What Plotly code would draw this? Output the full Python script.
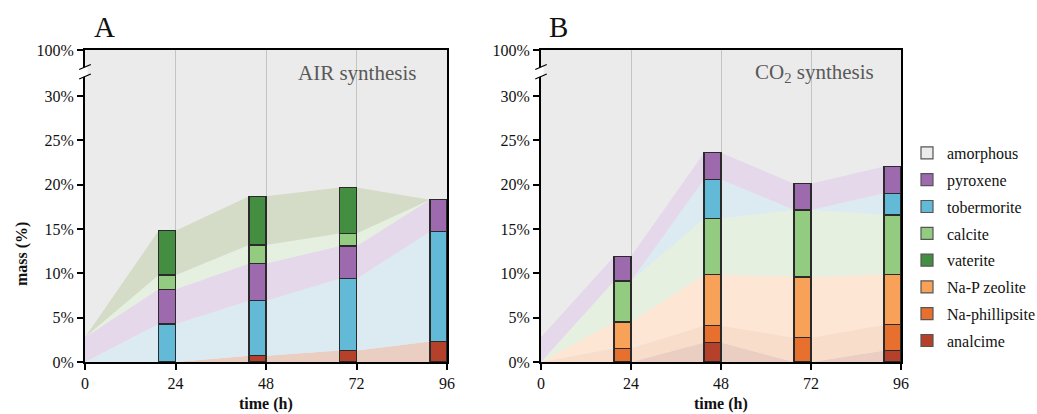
import plotly.graph_objects as go

# ---------------- data ----------------
time_h = [0, 24, 48, 72, 96]          # sampling times (h); t=0 has no bar
x_ticks = [0, 24, 48, 72, 96]
y_ticks = [0, 5, 10, 15, 20, 25, 30]
y_tick_text = ["0%", "5%", "10%", "15%", "20%", "25%", "30%"]
y_top_label = "100%"

# AIR synthesis (mass %)
air_analcime    = [0.0, 0.0, 0.7, 1.3, 2.3]
air_tobermorite = [0.0, 4.3, 6.2, 8.1, 12.4]
air_pyroxene    = [2.8, 3.9, 4.2, 3.7, 3.6]
air_calcite     = [0.0, 1.6, 2.1, 1.4, 0.0]
air_vaterite    = [0.0, 5.0, 5.5, 5.2, 0.0]

# CO2 synthesis (mass %)
co2_analcime      = [0.0, 0.0, 2.2, 0.0, 1.3]
co2_naphillipsite = [0.0, 1.55, 1.9, 2.75, 2.9]
co2_nap_zeolite   = [0.0, 2.95, 5.75, 6.85, 5.7]
co2_calcite       = [0.0, 4.65, 6.35, 7.55, 6.7]
co2_tobermorite   = [0.0, 0.0, 4.4, 0.0, 2.45]
co2_pyroxene      = [2.8, 2.75, 3.0, 2.95, 3.0]

legend_order = ["amorphous", "pyroxene", "tobermorite", "calcite", "vaterite",
                "Na-P zeolite", "Na-phillipsite", "analcime"]

# ---------------- styles ----------------
FONT = "Liberation Serif"
BG = "#ebebeb"
EDGE = "#2a2a2a"
BAR_W = 4.5
Y_TOP = 35.2

bar_color = {
    "amorphous": BG,
    "pyroxene": "#9e6aae",
    "tobermorite": "#62bad7",
    "calcite": "#93cb81",
    "vaterite": "#438e40",
    "Na-P zeolite": "#f8a259",
    "Na-phillipsite": "#e8702f",
    "analcime": "#b5412a",
}
area_color = {
    "pyroxene": "#e4d8ea",
    "tobermorite": "#dcebf2",
    "calcite": "#e5f0e1",
    "vaterite": "#d4dcc8",
    "Na-P zeolite": "#fde6d4",
    "Na-phillipsite": "#f7ddca",
    "analcime": "#eacec2",
}

panels = [
    ("x", "y", "x3", "y3", "A",
     [("analcime", air_analcime), ("tobermorite", air_tobermorite),
      ("pyroxene", air_pyroxene), ("calcite", air_calcite),
      ("vaterite", air_vaterite)]),
    ("x2", "y2", "x4", "y4", "B",
     [("analcime", co2_analcime), ("Na-phillipsite", co2_naphillipsite),
      ("Na-P zeolite", co2_nap_zeolite), ("calcite", co2_calcite),
      ("tobermorite", co2_tobermorite), ("pyroxene", co2_pyroxene)]),
]

fig = go.Figure()

for xa, ya, xb, yb, grp, series in panels:
    # connecting areas: from each bar's right edge to next bar's left edge
    for name, vals in series:
        ax, ay = [time_h[0]], [vals[0]]
        for t, v in zip(time_h[1:], vals[1:]):
            ax += [t - BAR_W, t]
            ay += [v, v]
        fig.add_trace(go.Scatter(
            x=ax, y=ay, xaxis=xa, yaxis=ya, mode="lines", stackgroup=grp,
            line=dict(width=0), fillcolor=area_color[name], showlegend=False,
            hoverinfo="skip"))
    # stacked bars on an overlaying subplot so they sit above the areas
    for name, vals in series:
        fig.add_trace(go.Bar(
            x=time_h[1:], y=[v if v > 0 else None for v in vals[1:]],
            xaxis=xb, yaxis=yb, width=BAR_W, offset=-BAR_W,
            marker=dict(color=bar_color[name], line=dict(color=EDGE, width=1.3)),
            showlegend=False, name=name))

# legend-only entries
for name in legend_order:
    fig.add_trace(go.Bar(
        x=[None], y=[None], name=name, legendgroup=name, xaxis="x3", yaxis="y3",
        marker=dict(color=bar_color[name], line=dict(color="#555555", width=1.2))))

axis_common = dict(type="linear", showline=True, linecolor="black", linewidth=2, mirror=True,
                   ticks="outside", ticklen=6, tickwidth=1.5, tickcolor="black",
                   tickfont=dict(family=FONT, size=16, color="#111111"), zeroline=False)
hidden = dict(type="linear", visible=False, showgrid=False, zeroline=False)

x_dom_a = [85 / 1037, 447 / 1037]
x_dom_b = [541 / 1037, 901 / 1037]
y_dom = [52 / 414, 364 / 414]

fig.update_layout(
    width=1037, height=414,
    margin=dict(l=0, r=0, t=0, b=0, autoexpand=False),
    paper_bgcolor="white", plot_bgcolor=BG,
    barmode="stack",
    font=dict(family=FONT, size=16, color="#111111"),
    xaxis=dict(domain=x_dom_a, range=[0, 96], tickvals=x_ticks, anchor="y",
               showgrid=True, gridcolor="#c4c4c4", gridwidth=1, **axis_common),
    xaxis2=dict(domain=x_dom_b, range=[0, 96], tickvals=x_ticks, anchor="y2",
                showgrid=True, gridcolor="#c4c4c4", gridwidth=1, **axis_common),
    yaxis=dict(domain=y_dom, range=[0, Y_TOP], anchor="x",
               tickvals=y_ticks + [Y_TOP], ticktext=y_tick_text + [y_top_label],
               showgrid=False, **axis_common),
    yaxis2=dict(domain=y_dom, range=[0, Y_TOP], anchor="x2",
                tickvals=y_ticks + [Y_TOP], ticktext=y_tick_text + [y_top_label],
                showgrid=False, **axis_common),
    xaxis3=dict(overlaying="x", range=[0, 96], anchor="y3", **hidden),
    yaxis3=dict(overlaying="y", range=[0, Y_TOP], anchor="x3", **hidden),
    xaxis4=dict(overlaying="x2", range=[0, 96], anchor="y4", **hidden),
    yaxis4=dict(overlaying="y2", range=[0, Y_TOP], anchor="x4", **hidden),
    legend=dict(x=907 / 1037, y=1 - 136 / 414, xanchor="left", yanchor="top",
                traceorder="grouped", tracegroupgap=3,
                font=dict(family=FONT, size=16, color="#111111"),
                bgcolor="rgba(0,0,0,0)", itemwidth=30),
)

# axis break marks on the left axes
shapes = []
for xr, yr in [("x domain", "y domain"), ("x2 domain", "y2 domain")]:
    y1c, y2c = 0.9455, 0.9150
    dx, dy = 0.016, 0.008
    hw = 0.007
    shapes.append(dict(type="path", xref=xr, yref=yr, layer="above",
                       path=(f"M {-hw},{y1c - dy * hw / dx} L {hw},{y1c + dy * hw / dx} "
                             f"L {hw},{y2c + dy * hw / dx} L {-hw},{y2c - dy * hw / dx} Z"),
                       fillcolor="white", line=dict(width=0)))
    for yc in (y1c, y2c):
        shapes.append(dict(type="line", xref=xr, yref=yr, layer="above",
                           x0=-dx, y0=yc - dy, x1=dx, y1=yc + dy,
                           line=dict(color="black", width=1.3)))
fig.update_layout(shapes=shapes)

annotations = [
    dict(text="A", x=104 / 1037, y=1 - 27 / 414, xref="paper", yref="paper",
         xanchor="center", yanchor="middle",
         showarrow=False, font=dict(family=FONT, size=29, color="#111111")),
    dict(text="B", x=558 / 1037, y=1 - 27 / 414, xref="paper", yref="paper",
         xanchor="center", yanchor="middle",
         showarrow=False, font=dict(family=FONT, size=29, color="#111111")),
    dict(text="AIR synthesis", x=0.92, y=0.926, xref="x domain", yref="y domain",
         xanchor="right", yanchor="middle", showarrow=False,
         font=dict(family=FONT, size=21, color="#595959")),
    dict(text="CO<sub>2</sub> synthesis", x=0.93, y=0.926, xref="x2 domain", yref="y2 domain",
         xanchor="right", yanchor="middle", showarrow=False,
         font=dict(family=FONT, size=21, color="#595959")),
    dict(text="<b>mass (%)</b>", x=22 / 1037, y=1 - 254 / 414, xref="paper", yref="paper",
         xanchor="center", yanchor="middle",
         textangle=-90, showarrow=False, font=dict(family=FONT, size=16, color="#111111")),
    dict(text="<b>time (h)</b>", x=0.5, y=1 - 404 / 414, xref="x domain", yref="paper",
         xanchor="center", yanchor="middle",
         showarrow=False, font=dict(family=FONT, size=16, color="#111111")),
    dict(text="<b>time (h)</b>", x=0.5, y=1 - 404 / 414, xref="x2 domain", yref="paper",
         xanchor="center", yanchor="middle",
         showarrow=False, font=dict(family=FONT, size=16, color="#111111")),
]
fig.update_layout(annotations=annotations)

fig.write_html("out.html", config={"displayModeBar": False},
               post_script="document.body.style.margin='0px';")
